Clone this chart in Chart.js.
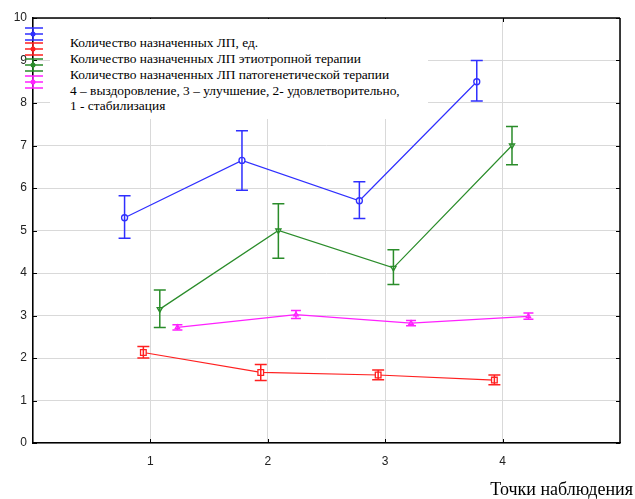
<!DOCTYPE html>
<html>
<head>
<meta charset="utf-8">
<script src="https://cdn.jsdelivr.net/npm/chart.js@4.4.1/dist/chart.umd.min.js"></script>
<style>
  html, body { margin: 0; padding: 0; background: #fff; overflow: hidden; }
  #wrap { position: relative; width: 635px; height: 499px; overflow: hidden; }
  #legend {
    position: absolute; left: 50px; top: 19px; width: 378px; height: 100px;
    background: #fff; font-family: "Liberation Serif", serif; font-size: 13.4px;
    line-height: 15.8px; color: #000;
  }
  #legend div { position: absolute; left: 20px; white-space: nowrap; }
  #xtitle {
    position: absolute; right: 2px; top: 479px; white-space: nowrap;
    font-family: "Liberation Serif", serif; font-size: 18px; color: #000;
  }
</style>
</head>
<body>
<div id="wrap">
  <canvas id="chart" width="635" height="499"></canvas>
  <div id="legend">
    <div style="top:16px">Количество назначенных ЛП, ед.</div>
    <div style="top:32px">Количество назначенных ЛП этиотропной терапии</div>
    <div style="top:48px">Количество назначенных ЛП патогенетической терапии</div>
    <div style="top:64px">4 – выздоровление, 3 – улучшение, 2- удовлетворительно,</div>
    <div style="top:79px">1 - стабилизация</div>
  </div>
  <div id="xtitle">Точки наблюдения</div>
</div>
<script>
const xTicks = [1, 2, 3, 4];
const yTicks = [0, 1, 2, 3, 4, 5, 6, 7, 8, 9, 10];

const totalX = [0.78, 1.78, 2.78, 3.78];
const totalMean = [5.3, 6.65, 5.7, 8.5];
const totalLow = [4.82, 5.95, 5.28, 8.05];
const totalHigh = [5.82, 7.35, 6.15, 9.0];

const etioX = [0.94, 1.94, 2.94, 3.93];
const etioMean = [2.13, 1.66, 1.6, 1.48];
const etioLow = [2.0, 1.47, 1.49, 1.37];
const etioHigh = [2.27, 1.85, 1.72, 1.6];

const patoX = [1.08, 2.09, 3.07, 4.08];
const patoMean = [3.15, 5.0, 4.12, 7.0];
const patoLow = [2.72, 4.35, 3.73, 6.55];
const patoHigh = [3.6, 5.63, 4.55, 7.45];

const stateX = [1.23, 2.24, 3.22, 4.22];
const stateMean = [2.72, 3.02, 2.82, 2.98];
const stateLow = [2.66, 2.93, 2.76, 2.91];
const stateHigh = [2.78, 3.12, 2.88, 3.06];

const colors = ["#2f2fff", "#ff2020", "#2a8c2a", "#ff20ff"];

function pts(xs, ys) {
    return xs.map((x, i) => ({ x: x, y: ys[i] }));
}

const series = [
    { x: totalX, mean: totalMean, low: totalLow, high: totalHigh, style: "circle", r: 3, cap: 6 },
    { x: etioX, mean: etioMean, low: etioLow, high: etioHigh, style: "rect", r: 4, cap: 6 },
    { x: patoX, mean: patoMean, low: patoLow, high: patoHigh, style: "triangle", r: 3, cap: 6 },
    { x: stateX, mean: stateMean, low: stateLow, high: stateHigh, style: "triangle", r: 2.5, cap: 5 },
];

// error bars, legend symbols and the frame ticks
const extras = {
    id: "extras",
    afterDatasetsDraw(chart) {
        const ctx = chart.ctx;
        const xs = chart.scales.x;
        const ys = chart.scales.y;
        const a = chart.chartArea;
        ctx.save();
        series.forEach((s, k) => {
            ctx.strokeStyle = colors[k];
            ctx.lineWidth = 1.5;
            s.x.forEach((xv, i) => {
                const px = xs.getPixelForValue(xv);
                const top = ys.getPixelForValue(s.high[i]);
                const bot = ys.getPixelForValue(s.low[i]);
                ctx.beginPath();
                ctx.moveTo(px, top); ctx.lineTo(px, bot);
                ctx.moveTo(px - s.cap, top); ctx.lineTo(px + s.cap, top);
                ctx.moveTo(px - s.cap, bot); ctx.lineTo(px + s.cap, bot);
                ctx.stroke();
            });
        });
        // frame: top and right edges, ticks pointing inward on all sides
        ctx.strokeStyle = "#000";
        ctx.lineWidth = 1.5;
        ctx.beginPath();
        ctx.moveTo(a.left, a.top); ctx.lineTo(a.right, a.top);
        ctx.moveTo(a.right, a.top); ctx.lineTo(a.right, a.bottom);
        ctx.stroke();
        ctx.lineWidth = 1;
        ctx.beginPath();
        xTicks.forEach((t) => {
            const px = Math.round(xs.getPixelForValue(t)) + 0.5;
            ctx.moveTo(px, a.top); ctx.lineTo(px, a.top + 4);
            ctx.moveTo(px, a.bottom); ctx.lineTo(px, a.bottom - 4);
        });
        yTicks.forEach((t) => {
            const py = Math.round(ys.getPixelForValue(t)) + 0.5;
            ctx.moveTo(a.right, py); ctx.lineTo(a.right - 4, py);
            ctx.moveTo(a.left, py); ctx.lineTo(a.left + 4, py);
        });
        ctx.stroke();
        ctx.restore();
    },
    afterDraw(chart) {
        const ctx = chart.ctx;
        const cx = chart.chartArea.left;
        const rows = [34, 49, 65, 82];
        ctx.save();
        rows.forEach((cy, k) => {
            ctx.strokeStyle = colors[k];
            ctx.lineWidth = 1.5;
            ctx.beginPath();
            ctx.moveTo(cx - 8, cy - 6); ctx.lineTo(cx + 10, cy - 6);
            ctx.moveTo(cx - 8, cy); ctx.lineTo(cx + 10, cy);
            ctx.moveTo(cx - 8, cy + 6); ctx.lineTo(cx + 10, cy + 6);
            ctx.moveTo(cx, cy - 6); ctx.lineTo(cx, cy + 6);
            ctx.stroke();
            ctx.fillStyle = colors[k];
            ctx.beginPath();
            ctx.arc(cx, cy, 2.5, 0, Math.PI * 2);
            ctx.fill();
        });
        ctx.restore();
    },
};

const ctx = document.getElementById("chart").getContext("2d");
new Chart(ctx, {
    type: "scatter",
    data: {
        datasets: series.map((s, k) => ({
            data: pts(s.x, s.mean),
            showLine: true,
            borderColor: colors[k],
            backgroundColor: "#fff",
            borderWidth: 1.2,
            pointStyle: s.style,
            pointRadius: s.r,
            pointBorderWidth: 1.3,
            pointBorderColor: colors[k],
            pointRotation: k === 2 ? 180 : 0,
        })),
    },
    options: {
        responsive: false,
        animation: false,
        layout: { padding: { left: 0, top: 18, right: 15, bottom: 0 } },
        plugins: { legend: { display: false }, tooltip: { enabled: false } },
        scales: {
            x: {
                type: "linear",
                min: 0,
                max: 5,
                afterFit: (s) => { s.height = 56; },
                afterBuildTicks: (s) => { s.ticks = [0, ...xTicks, 5].map((v) => ({ value: v })); },
                ticks: {
                    padding: 11,
                    color: "#222",
                    font: { family: "Liberation Sans", size: 12 },
                    callback: (v) => (xTicks.includes(v) ? String(v) : ""),
                },
                grid: { color: "#d9d9d9", drawTicks: false },
                border: { color: "#000", width: 1.5 },
            },
            y: {
                min: 0,
                max: 10,
                afterFit: (s) => { s.width = 33; },
                afterBuildTicks: (s) => { s.ticks = yTicks.map((v) => ({ value: v })); },
                ticks: {
                    padding: 6,
                    color: "#222",
                    font: { family: "Liberation Sans", size: 12 },
                },
                grid: { color: "#d9d9d9", drawTicks: false },
                border: { color: "#000", width: 1.5 },
            },
        },
    },
    plugins: [extras],
});
</script>
</body>
</html>
